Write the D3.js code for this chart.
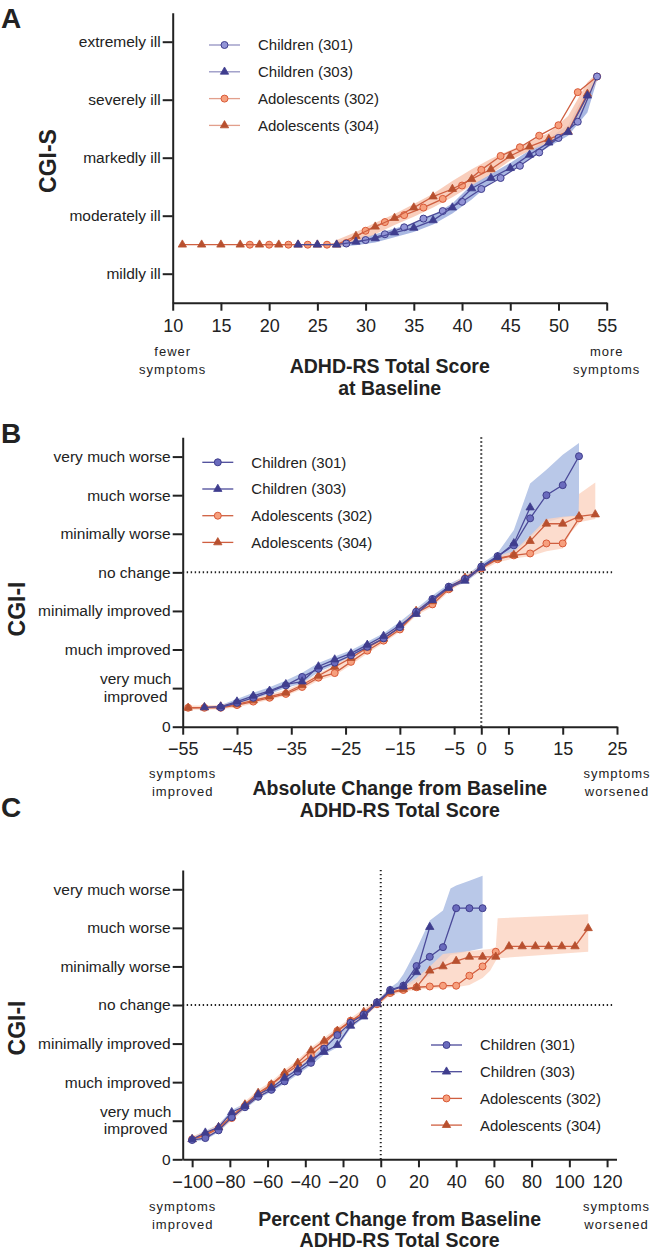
<!DOCTYPE html>
<html lang="en">
<head>
<meta charset="utf-8">
<title>CGI vs ADHD-RS</title>
<style>
  body { margin: 0; background: #fff; }
  svg text { font-family: "Liberation Sans", Arial, Helvetica, sans-serif; fill: #222; }
</style>
</head>
<body>
<script src="https://cdn.jsdelivr.net/npm/d3@7/dist/d3.min.js"></script>
<script>
// ---------- shared labels ----------
var legendNames = ["Children (301)", "Children (303)", "Adolescents (302)", "Adolescents (304)"];
var cgisLabels = ["mildly ill", "moderately ill", "markedly ill", "severely ill", "extremely ill"];
var cgiiLabels = ["0", "very much|improved", "much improved", "minimally improved", "no change",
                  "minimally worse", "much worse", "very much worse"];

// ---------- Panel A: CGI-S vs baseline ADHD-RS ----------
var aTicksX = [10, 15, 20, 25, 30, 35, 40, 45, 50, 55];
var aTicksY = [3, 4, 5, 6, 7];
var aX301 = [28, 30, 32, 34, 36, 38, 40, 42, 44, 46, 48, 50, 52, 54];
var aY301 = [3.52, 3.58, 3.68, 3.80, 3.95, 4.08, 4.24, 4.46, 4.65, 4.86, 5.09, 5.34, 5.62, 6.40];
var aX303 = [23, 25, 27, 29, 31, 33, 35, 37, 39, 41, 43, 45, 47, 49, 51, 53];
var aY303 = [3.5, 3.5, 3.5, 3.55, 3.61, 3.71, 3.79, 3.92, 4.14, 4.47, 4.65, 4.82, 5.05, 5.26, 5.44, 6.07];
var aX302 = [18, 20, 22, 24, 26, 28, 30, 32, 34, 36, 38, 40, 42, 44, 46, 48, 50, 52, 54];
var aY302 = [3.5, 3.5, 3.5, 3.5, 3.5, 3.53, 3.74, 3.89, 4.01, 4.14, 4.29, 4.52, 4.79, 5.03, 5.18, 5.38, 5.56, 6.13, 6.40];
var aX304 = [11, 13, 15, 17, 19, 21, 23, 25, 27, 29, 31, 33, 35, 37, 39, 41, 43, 45, 47, 49, 51, 53];
var aY304 = [3.5, 3.5, 3.5, 3.5, 3.5, 3.5, 3.5, 3.5, 3.5, 3.65, 3.81, 3.96, 4.14, 4.33, 4.46, 4.63, 4.80, 5.03, 5.19, 5.32, 5.45, 6.10];
var aBandX = [27, 29, 31, 33, 35, 37, 39, 41, 43, 45, 47, 49, 51, 53, 54];
var aBlueLo = [3.46, 3.49, 3.54, 3.63, 3.72, 3.85, 4.04, 4.28, 4.57, 4.76, 4.98, 5.19, 5.38, 5.78, 6.34];
var aBlueHi = [3.56, 3.62, 3.68, 3.78, 3.87, 4.01, 4.21, 4.54, 4.72, 4.91, 5.13, 5.34, 5.56, 6.20, 6.46];
var aOrgLo = [3.46, 3.55, 3.68, 3.84, 3.98, 4.14, 4.32, 4.52, 4.72, 4.95, 5.12, 5.26, 5.42, 6.00, 6.34];
var aOrgHi = [3.58, 3.72, 3.88, 4.03, 4.20, 4.38, 4.60, 4.80, 4.98, 5.13, 5.27, 5.43, 5.72, 6.30, 6.46];

// ---------- Panel B: CGI-I vs absolute change ----------
var bTicksX = [-55, -45, -35, -25, -15, -5, 0, 5, 15, 25];
var bTicksY = [0, 1, 2, 3, 4, 5, 6, 7];
var bX301 = [-48, -45, -42, -39, -36, -33, -30, -27, -24, -21, -18, -15, -12, -9, -6, -3, 0, 3, 6, 9, 12, 15, 18];
var bY301 = [0.50, 0.62, 0.75, 0.90, 1.07, 1.29, 1.50, 1.66, 1.85, 2.07, 2.29, 2.58, 2.98, 3.31, 3.63, 3.83, 4.15, 4.42, 4.70, 5.40, 6.00, 6.26, 7.01];
var bX303 = [-51, -48, -45, -42, -39, -36, -33, -30, -27, -24, -21, -18, -15, -12, -9, -6, -3, 0, 3, 6, 9];
var bY303 = [0.50, 0.52, 0.65, 0.80, 0.93, 1.10, 1.17, 1.56, 1.74, 1.90, 2.12, 2.35, 2.63, 2.92, 3.28, 3.60, 3.78, 4.12, 4.40, 4.75, 5.68];
var bX302 = [-54, -51, -48, -45, -42, -39, -36, -33, -30, -27, -24, -21, -18, -15, -12, -9, -6, -3, 0, 3, 6, 9, 12, 15, 18];
var bY302 = [0.49, 0.49, 0.49, 0.56, 0.65, 0.75, 0.85, 1.03, 1.27, 1.39, 1.68, 1.97, 2.23, 2.52, 2.95, 3.17, 3.56, 3.84, 4.10, 4.34, 4.44, 4.49, 4.75, 4.75, 5.40];
var bX304 = [-54, -51, -48, -45, -42, -39, -36, -33, -30, -27, -24, -21, -18, -15, -12, -9, -6, -3, 0, 3, 6, 9, 12, 15, 18, 21];
var bY304 = [0.49, 0.50, 0.52, 0.58, 0.68, 0.78, 0.88, 1.08, 1.32, 1.55, 1.78, 2.05, 2.28, 2.57, 3.00, 3.25, 3.58, 3.86, 4.12, 4.36, 4.45, 4.81, 5.26, 5.26, 5.45, 5.50];
var bBlueX = [-48, -45, -42, -39, -36, -33, -30, -27, -24, -21, -18, -15, -12, -9, -6, -3, 0, 3, 6, 9, 12, 15, 18];
var bBlueLo = [0.45, 0.57, 0.70, 0.85, 1.00, 1.12, 1.42, 1.60, 1.80, 2.02, 2.24, 2.52, 2.88, 3.22, 3.55, 3.74, 4.05, 4.32, 4.50, 4.90, 5.30, 5.42, 5.46];
var bBlueHi = [0.56, 0.72, 0.88, 1.02, 1.20, 1.40, 1.65, 1.82, 1.98, 2.20, 2.42, 2.72, 3.06, 3.40, 3.70, 3.90, 4.22, 4.50, 5.10, 6.30, 6.66, 7.05, 7.35];
var bOrgX = [-54, -51, -48, -45, -42, -39, -36, -33, -30, -27, -24, -21, -18, -15, -12, -9, -6, -3, 0, 3, 6, 9, 12, 15, 16.5, 17.9, 18, 21];
var bOrgLo = [0.44, 0.44, 0.45, 0.50, 0.60, 0.70, 0.80, 0.97, 1.20, 1.33, 1.60, 1.90, 2.17, 2.46, 2.88, 3.10, 3.50, 3.78, 4.04, 4.26, 4.36, 4.42, 4.55, 4.62, 5.03, 5.25, 5.30, 5.38];
var bOrgHi = [0.55, 0.55, 0.57, 0.64, 0.74, 0.84, 0.95, 1.14, 1.38, 1.60, 1.84, 2.10, 2.34, 2.62, 3.04, 3.30, 3.64, 3.92, 4.16, 4.42, 4.55, 4.95, 5.38, 5.44, 5.46, 5.47, 6.03, 6.33];

// ---------- Panel C: CGI-I vs percent change ----------
var cTicksX = [-100, -80, -60, -40, -20, 0, 20, 40, 60, 80, 100, 120];
var cTicksY = [0, 1, 2, 3, 4, 5, 6, 7];
var cX301 = [-100, -93, -86, -79, -72, -65, -58, -51, -44, -37, -30, -23, -16, -9, -2, 5, 12, 19, 26, 33, 40, 47, 54];
var cY301 = [0.50, 0.55, 0.75, 1.09, 1.35, 1.62, 1.80, 2.02, 2.27, 2.50, 2.87, 3.22, 3.54, 3.75, 4.07, 4.39, 4.50, 5.01, 5.25, 5.50, 6.51, 6.51, 6.51];
var cX303 = [-100, -93, -86, -79, -72, -65, -58, -51, -44, -37, -30, -23, -16, -9, -2, 5, 12, 19, 26];
var cY303 = [0.52, 0.69, 0.83, 1.22, 1.38, 1.68, 1.85, 2.11, 2.33, 2.59, 2.78, 2.96, 3.46, 3.70, 4.04, 4.37, 4.48, 4.85, 6.02];
var cX302 = [-100, -93, -86, -79, -72, -65, -58, -51, -44, -37, -30, -23, -16, -9, -2, 5, 12, 19, 26, 33, 40, 47, 54, 61];
var cY302 = [0.52, 0.62, 0.80, 1.07, 1.38, 1.65, 1.94, 2.20, 2.43, 2.69, 3.00, 3.33, 3.59, 3.74, 4.02, 4.31, 4.39, 4.46, 4.48, 4.50, 4.50, 4.76, 5.00, 5.38];
var cX304 = [-100, -93, -86, -79, -72, -65, -58, -51, -44, -37, -30, -23, -16, -9, -2, 5, 12, 19, 26, 33, 40, 47, 54, 61, 68, 75, 82, 89, 96, 103, 110];
var cY304 = [0.52, 0.65, 0.83, 1.11, 1.42, 1.72, 1.94, 2.24, 2.50, 2.82, 3.07, 3.33, 3.57, 3.82, 4.05, 4.33, 4.41, 4.46, 4.89, 5.00, 5.14, 5.25, 5.25, 5.25, 5.52, 5.52, 5.52, 5.52, 5.52, 5.52, 5.99];
var cBlueX = [-100, -93, -86, -79, -72, -65, -58, -51, -44, -37, -30, -23, -16, -9, -2, 5, 9, 12, 14, 19, 26, 33, 37, 40, 47, 54];
var cBlueLo = [0.46, 0.50, 0.70, 1.02, 1.30, 1.57, 1.75, 1.96, 2.20, 2.44, 2.72, 2.90, 3.40, 3.66, 4.00, 4.32, 4.42, 4.45, 4.50, 4.59, 4.76, 5.10, 5.30, 5.32, 5.40, 5.47];
var cBlueHi = [0.58, 0.74, 0.90, 1.28, 1.45, 1.74, 1.92, 2.18, 2.40, 2.66, 2.92, 3.28, 3.60, 3.82, 4.12, 4.45, 4.59, 4.80, 4.98, 5.45, 6.19, 6.45, 7.02, 7.10, 7.22, 7.35];
var cOrgX = [-100, -93, -86, -79, -72, -65, -58, -51, -44, -37, -30, -23, -16, -9, -2, 5, 12, 19, 26, 33, 40, 47, 54, 58, 61, 62, 110];
var cOrgLo = [0.46, 0.56, 0.74, 1.00, 1.32, 1.60, 1.87, 2.14, 2.37, 2.62, 2.94, 3.26, 3.50, 3.68, 3.96, 4.25, 4.34, 4.40, 4.42, 4.44, 4.46, 4.52, 4.70, 4.89, 5.15, 5.21, 5.38];
var cOrgHi = [0.60, 0.72, 0.90, 1.18, 1.50, 1.80, 2.02, 2.32, 2.58, 2.90, 3.15, 3.42, 3.66, 3.90, 4.12, 4.40, 4.48, 4.70, 5.00, 5.32, 5.36, 5.40, 5.43, 5.45, 5.50, 6.25, 6.35];

// ---------- styles ----------
var blueLine = "#4b4a99", orangeLine = "#cf5f40";
var blueBand = "#b9c8e8", orangeBand = "#fbd3c0";

var w = 652, h = 1250;
var svg = d3.select("body").append("svg").attr("width", w).attr("height", h);

function seriesStyles(light) {
  return [
    {shape: "circle", line: blueLine, fill: light ? "#9294d6" : "#6a6bbd", stroke: "#3f3d8c"},
    {shape: "triangle", line: blueLine, fill: "#3f3d8e", stroke: "#3f3d8e"},
    {shape: "circle", line: orangeLine, fill: "#f6a07e", stroke: "#d95a38"},
    {shape: "triangle", line: orangeLine, fill: "#b8502f", stroke: "#b8502f"}
  ];
}

function drawMarker(g, shape, cx, cy, st) {
  if (shape === "circle") {
    g.append("circle").attr("cx", cx).attr("cy", cy).attr("r", 3.5)
      .attr("fill", st.fill).attr("stroke", st.stroke).attr("stroke-width", 1);
  } else {
    g.append("path").attr("d", d3.symbol().type(d3.symbolTriangle).size(30)())
      .attr("transform", "translate(" + cx + "," + cy + ")")
      .attr("fill", st.fill).attr("stroke", st.stroke).attr("stroke-width", 0.8);
  }
}

function drawPanel(p) {
  var g = svg.append("g");
  var x = d3.scaleLinear().domain(p.xDomain).range([p.left, p.right]);
  var y = d3.scaleLinear().domain(p.yDomain).range([p.bottom, p.top]);

  // confidence bands
  p.bands.forEach(function(b) {
    var rows = b.x.map(function(v, i) { return [v, b.lo[i], b.hi[i]]; });
    g.append("path").datum(rows)
      .attr("d", d3.area().x(function(d) { return x(d[0]); })
        .y0(function(d) { return y(d[1]); }).y1(function(d) { return y(d[2]); }))
      .attr("fill", b.color).attr("fill-opacity", b.opacity);
  });

  // dotted reference lines
  if (p.refLines) {
    g.append("line").attr("x1", p.left).attr("x2", p.right - 3)
      .attr("y1", y(4)).attr("y2", y(4));
    g.append("line").attr("x1", x(0)).attr("x2", x(0))
      .attr("y1", p.bottom).attr("y2", p.top);
    g.selectAll("line").attr("stroke", "#222").attr("stroke-width", 2)
      .attr("stroke-dasharray", "1.4,2.6");
  }

  // axes
  var ya = g.append("g").attr("transform", "translate(" + p.left + ",0)")
    .call(d3.axisLeft(y).tickValues(p.yTicks)
      .tickFormat(function(d, i) { return p.yLabels[i]; })
      .tickSize(10).tickPadding(2).tickSizeOuter(0));
  ya.selectAll("text").attr("font-size", "15.5px").each(function() {
    var t = d3.select(this), parts = t.text().split("|");
    if (parts.length > 1) {
      t.text(null).attr("text-anchor", "middle").attr("x", -47).attr("dy", null);
      t.append("tspan").attr("x", -47).attr("dy", "-0.3em").text(parts[0]);
      t.append("tspan").attr("x", -47).attr("dy", "1.15em").text(parts[1]);
    }
  });
  var xa = g.append("g").attr("transform", "translate(0," + p.bottom + ")")
    .call(d3.axisBottom(x).tickValues(p.xTicks).tickSize(8)
      .tickPadding(p.xPad).tickSizeOuter(0));
  xa.selectAll("text").attr("font-size", "18px");
  g.selectAll(".domain, .tick line").attr("stroke", "#222").attr("stroke-width", 2);
  g.selectAll(".tick text").attr("fill", "#222");

  // series
  var st = seriesStyles(p.light);
  p.order.forEach(function(k) {
    var s = p.series[k], s2 = st[k];
    var pts = s.x.map(function(v, i) { return [x(v), y(s.y[i])]; });
    g.append("path").datum(pts).attr("d", d3.line())
      .attr("fill", "none").attr("stroke", s2.line).attr("stroke-width", 1.3);
    pts.forEach(function(pt) { drawMarker(g, s2.shape, pt[0], pt[1], s2); });
  });

  // legend
  legendNames.forEach(function(name, i) {
    var ly = p.legend.y + i * p.legend.dy;
    g.append("line").attr("x1", p.legend.x).attr("x2", p.legend.x + 31)
      .attr("y1", ly).attr("y2", ly).attr("stroke", st[i].line).attr("stroke-width", 1.3)
      .attr("stroke-opacity", p.light ? 0.6 : 1);
    drawMarker(g, st[i].shape, p.legend.x + 15.5, ly, st[i]);
    g.append("text").attr("x", p.legend.x + 49).attr("y", ly).attr("dy", "0.36em")
      .attr("font-size", "15px").text(name);
  });

  // axis titles
  g.append("text").attr("transform", "translate(" + p.yTitle[0] + "," + p.yTitle[1] + ") rotate(-90)")
    .attr("text-anchor", "middle").attr("font-weight", "bold").attr("font-size", "23px")
    .text(p.yTitleText);
  p.xTitle.forEach(function(line, i) {
    g.append("text").attr("x", (p.left + p.right) / 2).attr("y", p.xTitleY + i * p.xTitleDy)
      .attr("text-anchor", "middle").attr("font-weight", "bold").attr("font-size", "19.5px")
      .text(line);
  });
  // end notes under axis
  [[p.left, p.noteLeft], [p.right, p.noteRight]].forEach(function(n) {
    n[1].forEach(function(line, i) {
      g.append("text").attr("x", n[0]).attr("y", p.noteY + i * 18)
        .attr("text-anchor", "middle").attr("font-size", "13px")
        .attr("letter-spacing", "1px").text(line);
    });
  });
  // panel letter
  svg.append("text").attr("x", 1).attr("y", p.letterY).attr("font-weight", "bold")
    .attr("font-size", "28px").text(p.letter);
}

drawPanel({
  letter: "A", letterY: 28, light: true,
  left: 172.7, right: 606.7, top: 12.7, bottom: 302.7,
  xDomain: [10, 55], yDomain: [2.5, 7.5],
  xTicks: aTicksX, yTicks: aTicksY, yLabels: cgisLabels, xPad: 9,
  bands: [
    {x: aBandX, lo: aBlueLo, hi: aBlueHi, color: "#a9b8e2", opacity: 1},
    {x: aBandX, lo: aOrgLo, hi: aOrgHi, color: "#f8c6b0", opacity: 0.85}
  ],
  series: [{x: aX301, y: aY301}, {x: aX303, y: aY303}, {x: aX302, y: aY302}, {x: aX304, y: aY304}],
  order: [2, 3, 0, 1],
  legend: {x: 209, y: 45, dy: 26.8},
  yTitle: [56, 161], yTitleText: "CGI-S",
  xTitle: ["ADHD-RS Total Score", "at Baseline"], xTitleY: 373, xTitleDy: 22,
  noteLeft: ["fewer", "symptoms"], noteRight: ["more", "symptoms"], noteY: 356
});

drawPanel({
  letter: "B", letterY: 443,
  left: 182.7, right: 617, top: 437.3, bottom: 726.7,
  xDomain: [-55, 25], yDomain: [0, 7.5],
  xTicks: bTicksX, yTicks: bTicksY, yLabels: cgiiLabels, xPad: 8, refLines: true,
  bands: [
    {x: bBlueX, lo: bBlueLo, hi: bBlueHi, color: blueBand, opacity: 1},
    {x: bOrgX, lo: bOrgLo, hi: bOrgHi, color: orangeBand, opacity: 0.8}
  ],
  series: [{x: bX301, y: bY301}, {x: bX303, y: bY303}, {x: bX302, y: bY302}, {x: bX304, y: bY304}],
  order: [2, 3, 0, 1],
  legend: {x: 202.3, y: 462.3, dy: 26.7},
  yTitle: [25, 609], yTitleText: "CGI-I",
  xTitle: ["Absolute Change from Baseline", "ADHD-RS Total Score"], xTitleY: 795, xTitleDy: 22,
  noteLeft: ["symptoms", "improved"], noteRight: ["symptoms", "worsened"], noteY: 778
});

drawPanel({
  letter: "C", letterY: 817,
  left: 182.7, right: 616.5, top: 870, bottom: 1159.3,
  xDomain: [-105, 125], yDomain: [0, 7.5],
  xTicks: cTicksX, yTicks: cTicksY, yLabels: cgiiLabels, xPad: 8, refLines: true,
  bands: [
    {x: cBlueX, lo: cBlueLo, hi: cBlueHi, color: blueBand, opacity: 1},
    {x: cOrgX, lo: cOrgLo, hi: cOrgHi, color: orangeBand, opacity: 0.8}
  ],
  series: [{x: cX301, y: cY301}, {x: cX303, y: cY303}, {x: cX302, y: cY302}, {x: cX304, y: cY304}],
  order: [2, 3, 0, 1],
  legend: {x: 431, y: 1045, dy: 26.7},
  yTitle: [25, 1028], yTitleText: "CGI-I",
  xTitle: ["Percent Change from Baseline", "ADHD-RS Total Score"], xTitleY: 1226, xTitleDy: 20.5,
  noteLeft: ["symptoms", "improved"], noteRight: ["symptoms", "worsened"], noteY: 1211
});
</script>
</body>
</html>
